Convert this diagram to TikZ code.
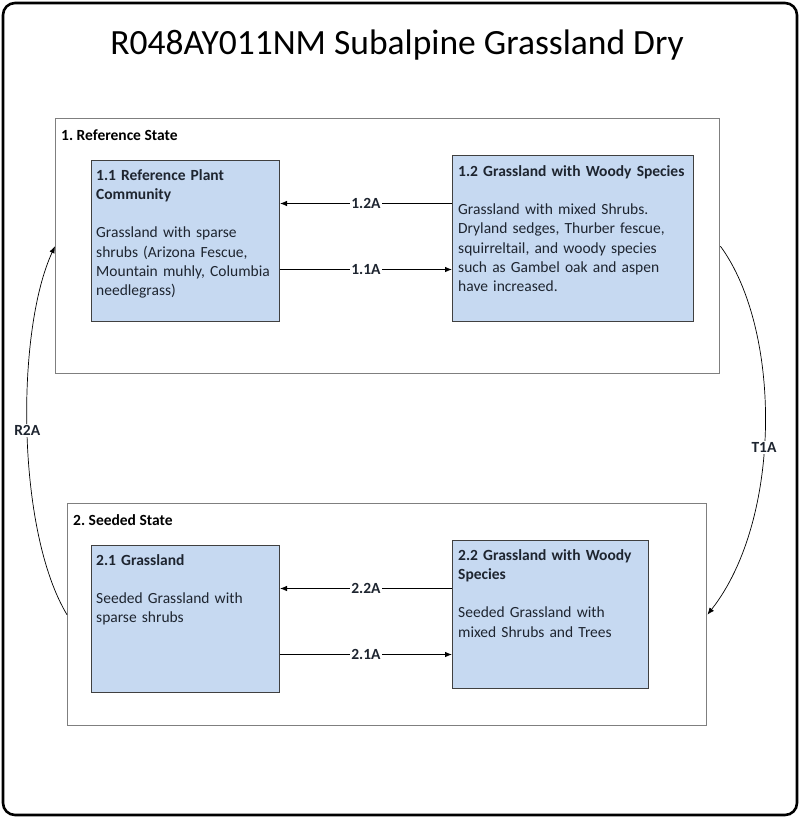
\documentclass[tikz,border=0pt]{standalone}
\usepackage{fontspec}
\setmainfont{Carlito}
\usetikzlibrary{arrows.meta,calc}
\definecolor{boxfill}{HTML}{C6D9F1}
\definecolor{boxline}{HTML}{404040}
\definecolor{stateline}{HTML}{7F7F7F}
\definecolor{txt}{HTML}{1E2530}
\frenchspacing
\begin{document}
\begin{tikzpicture}[x=1pt,y=-1pt,
  outerframe/.style={draw=black, line width=2.6pt, rounded corners=12pt},
  statebox/.style={draw=stateline, line width=1.4pt, fill=white, anchor=north west, inner sep=0pt},
  commbox/.style={draw=boxline, line width=1pt, fill=boxfill, anchor=north west, inner sep=0pt},
  bodytext/.style={anchor=base west, inner sep=0pt, align=left, text=txt,
     font=\fontsize{15.5}{19.3}\selectfont},
  statelabel/.style={anchor=base west, inner sep=0pt, font=\fontsize{15.5}{19.3}\selectfont\bfseries},
  arrlabel/.style={fill=white, inner sep=1.5pt, text=txt, font=\fontsize{15.5}{19.3}\selectfont\bfseries},
  arr/.style={draw=black, line width=0.8pt, -{Latex[length=7pt,width=5.5pt]}},
  curvearr/.style={draw=black, line width=0.7pt, -{Latex[length=7pt,width=5.5pt]}}
]
\useasboundingbox (0,0) rectangle (800,819);
\draw[outerframe] (3,3) rectangle (797,815);
\node[font=\fontsize{35.5}{42}\selectfont] (title) at (397,45) {R048AY011NM Subalpine Grassland Dry};

% states
\node[statebox, minimum width=664pt, minimum height=255pt] (ref) at (55,118) {};
\node[statelabel] (reflbl) at (61,140) {1. Reference State};
\node[statebox, minimum width=639pt, minimum height=222pt] (seed) at (67,503) {};
\node[statelabel] (seedlbl) at (73,525) {2. Seeded State};

% communities
\node[commbox, minimum width=188pt, minimum height=161pt] (b11) at (91,160) {};
\node[commbox, minimum width=241pt, minimum height=166pt] (b12) at (452,155) {};
\node[commbox, minimum width=188pt, minimum height=147pt] (b21) at (91,545) {};
\node[commbox, minimum width=196pt, minimum height=148pt] (b22) at (452,540) {};

\node[bodytext, text width=180pt] (t11) at (96,180) {\textbf{1.1 Reference Plant}\\\textbf{Community}\\[19.3pt]Grassland with sparse\\shrubs (Arizona Fescue,\\Mountain muhly, Columbia\\needlegrass)};
\node[bodytext, text width=234pt] (t12) at (458,176) {\textbf{1.2 Grassland with Woody Species}\\[19.3pt]Grassland with mixed Shrubs.\\Dryland sedges, Thurber fescue,\\squirreltail, and woody species\\such as Gambel oak and aspen\\have increased.};
\node[bodytext, text width=180pt] (t21) at (96,565) {\textbf{2.1 Grassland}\\[19.3pt]Seeded Grassland with\\sparse shrubs};
\node[bodytext, text width=188pt] (t22) at (458,560) {\textbf{2.2 Grassland with Woody}\\\textbf{Species}\\[19.3pt]Seeded Grassland with\\mixed Shrubs and Trees};

% horizontal transitions
\coordinate (a12) at ([yshift=35pt]b12.west);
\coordinate (a11) at ([yshift=-28.5pt]b11.east);
\coordinate (a22) at ([yshift=26pt]b22.west);
\coordinate (a21) at ([yshift=-35.5pt]b21.east);
\draw[arr] (a12) -- (a12 -| b11.east) node[midway, arrlabel] {1.2A};
\draw[arr] (a11) -- (a11 -| b12.west) node[midway, arrlabel] {1.1A};
\draw[arr] (a22) -- (a22 -| b21.east) node[midway, arrlabel] {2.2A};
\draw[arr] (a21) -- (a21 -| b22.west) node[midway, arrlabel] {2.1A};

% state transitions
\draw[curvearr] (ref.east) .. controls (782,330) and (782,520) .. (seed.east) node[pos=0.55, arrlabel] {T1A};
\draw[curvearr] (seed.west) .. controls (16,530) and (16,330) .. (ref.west) node[pos=0.5, arrlabel] {R2A};
\end{tikzpicture}
\end{document}
